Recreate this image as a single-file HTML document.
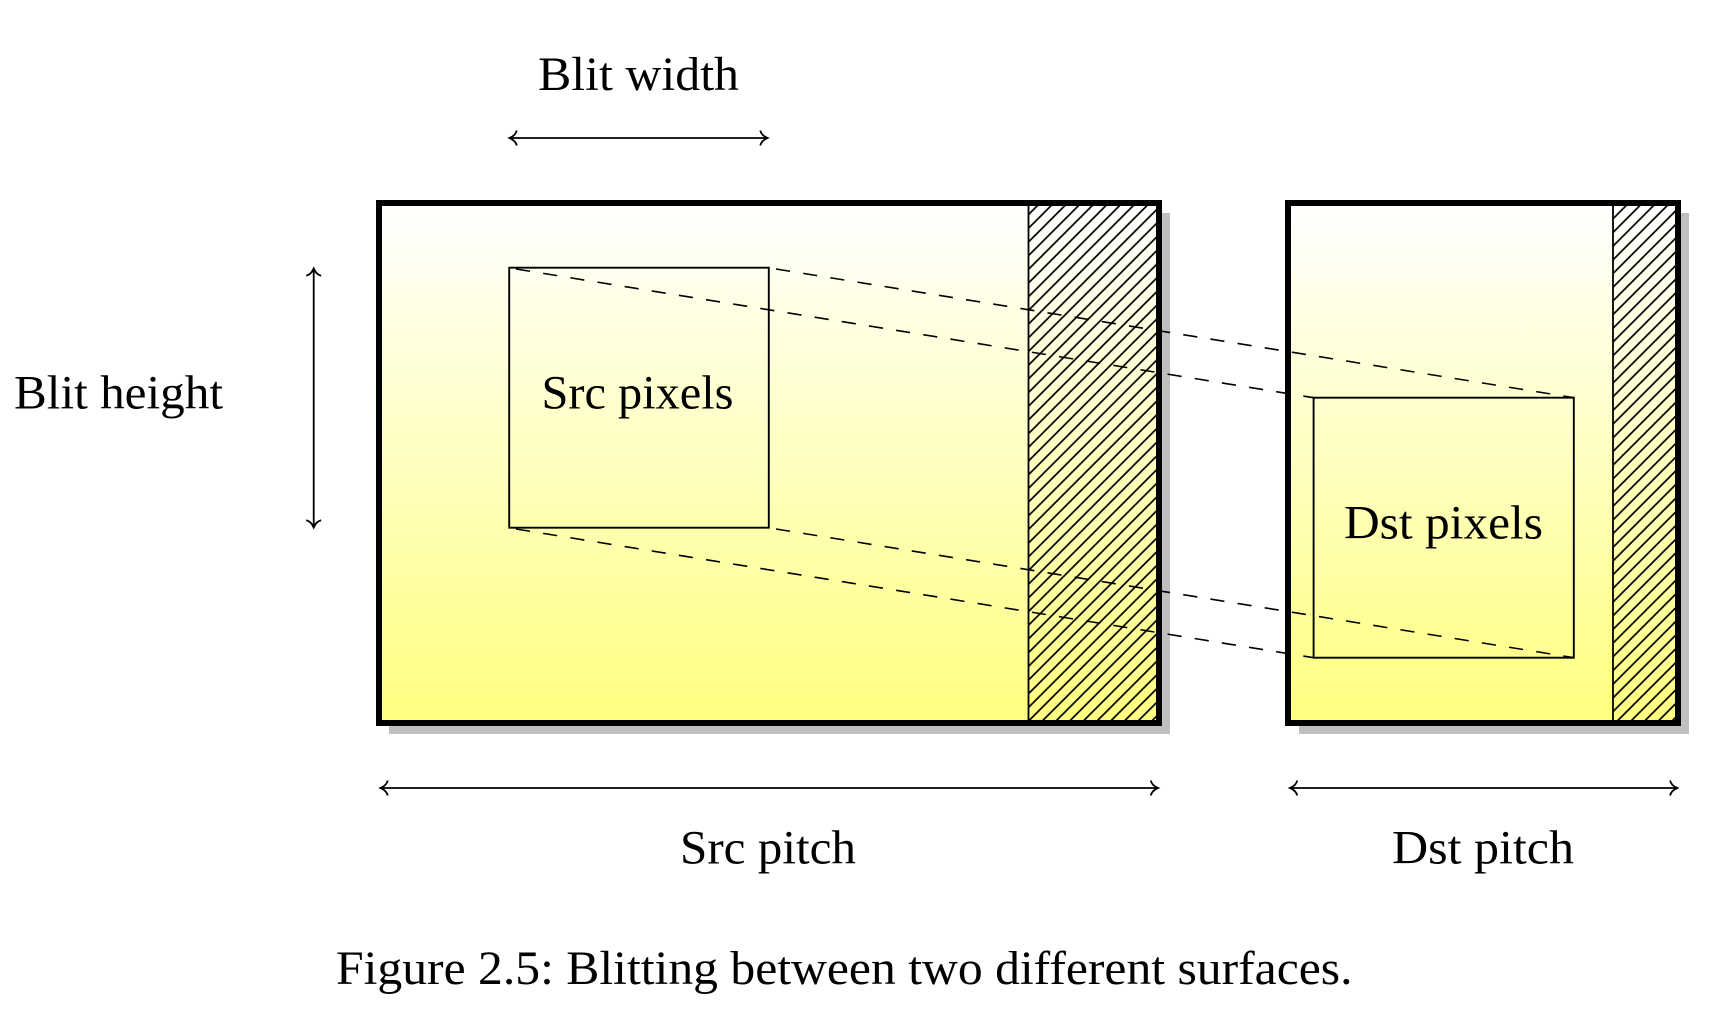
<!DOCTYPE html>
<html>
<head>
<meta charset="utf-8">
<style>
html,body{margin:0;padding:0;background:#fff;}
svg{display:block;}
text{font-family:"Liberation Serif",serif;font-size:48px;fill:#000;}
</style>
</head>
<body>
<svg width="1717" height="1024" viewBox="0 0 1717 1024" xmlns="http://www.w3.org/2000/svg">
<defs>
<linearGradient id="g" x1="0" y1="206" x2="0" y2="720" gradientUnits="userSpaceOnUse">
<stop offset="0" stop-color="#ffffff"/>
<stop offset="1" stop-color="#ffff80"/>
</linearGradient>
<pattern id="h" patternUnits="userSpaceOnUse" width="13.69" height="13.69" patternTransform="translate(1043.3 720)">
<path d="M-3.4 3.4L3.4 -3.4M10.29 17.09L17.09 10.29M0 13.69L13.69 0" stroke="#000" stroke-width="1.7" fill="none"/>
</pattern>
</defs>

<!-- shadows -->
<rect x="389" y="213" width="781" height="521" fill="#bfbfbf"/>
<rect x="1299" y="213" width="390" height="521" fill="#bfbfbf"/>

<!-- surfaces -->
<rect x="379" y="203" width="780" height="520" fill="url(#g)"/>
<rect x="1288" y="203" width="390" height="520" fill="url(#g)"/>

<!-- hatching -->
<rect x="1028.5" y="203" width="130" height="520" fill="url(#h)"/>
<rect x="1613" y="203" width="65" height="520" fill="url(#h)"/>
<path d="M1028.5 203V723M1613 203V723" stroke="#000" stroke-width="1.8" fill="none"/>

<!-- borders -->
<rect x="379" y="203" width="780" height="520" fill="none" stroke="#000" stroke-width="6"/>
<rect x="1288" y="203" width="390" height="520" fill="none" stroke="#000" stroke-width="6"/>

<!-- pixel rects -->
<rect x="509.2" y="267.7" width="259.6" height="260" fill="none" stroke="#000" stroke-width="1.9"/>
<rect x="1313.6" y="397.7" width="260.2" height="260" fill="none" stroke="#000" stroke-width="1.9"/>

<!-- dashed connectors -->
<g stroke="#000" stroke-width="1.6" stroke-dasharray="14.2 13.3" fill="none">
<line x1="516" y1="269" x2="1313.6" y2="397.7"/>
<line x1="776" y1="269" x2="1573.8" y2="397.7"/>
<line x1="516" y1="529" x2="1313.6" y2="657.7"/>
<line x1="776" y1="529" x2="1573.8" y2="657.7"/>
</g>

<!-- dimension arrows -->
<g stroke="#000" stroke-width="1.8" fill="none">
<path d="M509.5 138H767.5"/>
<path d="M516.7 130.5C516 134 513 136.5 509.5 138C513 139.5 516 142 516.7 145.5"/>
<path d="M760.3 130.5C761 134 764 136.5 767.5 138C764 139.5 761 142 760.3 145.5"/>

<path d="M313.7 268.5V527.5"/>
<path d="M306.2 275.7C309.7 275 312.2 272 313.7 268.5C315.2 272 317.7 275 321.2 275.7"/>
<path d="M306.2 520.3C309.7 521 312.2 524 313.7 527.5C315.2 524 317.7 521 321.2 520.3"/>

<path d="M380.5 788H1158"/>
<path d="M387.7 780.5C387 784 384 786.5 380.5 788C384 789.5 387 792 387.7 795.5"/>
<path d="M1150.8 780.5C1151.5 784 1154.5 786.5 1158 788C1154.5 789.5 1151.5 792 1150.8 795.5"/>

<path d="M1290 788H1677.3"/>
<path d="M1297.2 780.5C1296.5 784 1293.5 786.5 1290 788C1293.5 789.5 1296.5 792 1297.2 795.5"/>
<path d="M1670.1 780.5C1670.8 784 1673.8 786.5 1677.3 788C1673.8 789.5 1670.8 792 1670.1 795.5"/>
</g>

<!-- labels -->
<text x="538" y="90" textLength="201" lengthAdjust="spacingAndGlyphs">Blit width</text>
<text x="14" y="408.3" textLength="209" lengthAdjust="spacingAndGlyphs">Blit height</text>
<text x="541.5" y="408.3" textLength="192" lengthAdjust="spacingAndGlyphs">Src pixels</text>
<text x="1344" y="538.3" textLength="199" lengthAdjust="spacingAndGlyphs">Dst pixels</text>
<text x="680" y="863.3" textLength="176" lengthAdjust="spacingAndGlyphs">Src pitch</text>
<text x="1392" y="863.3" textLength="182" lengthAdjust="spacingAndGlyphs">Dst pitch</text>
<text x="336" y="984" textLength="1016.5" lengthAdjust="spacingAndGlyphs">Figure 2.5: Blitting between two different surfaces.</text>
</svg>
</body>
</html>
